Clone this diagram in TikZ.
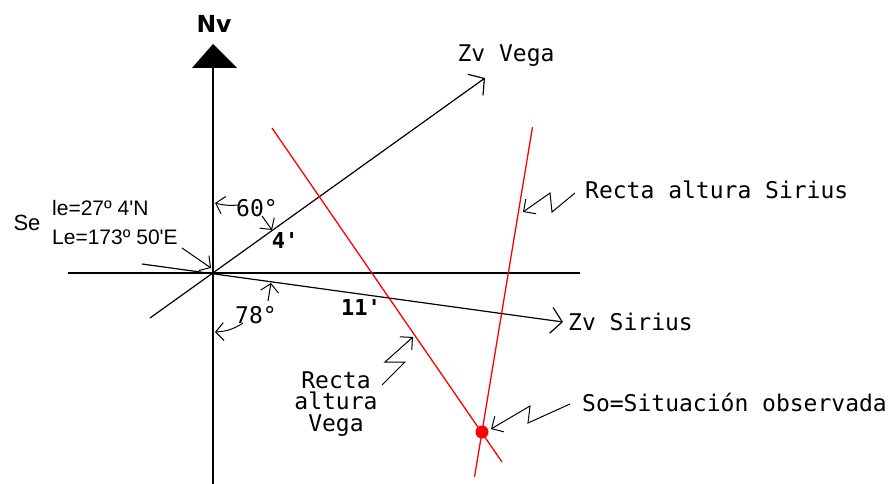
\documentclass[tikz,border=0pt]{standalone}
\usepackage{fontspec}
\usetikzlibrary{arrows.meta}
\newfontfamily\monof{DejaVu Sans Mono}
\newfontfamily\monobf{DejaVu Sans Mono Bold}
\newfontfamily\sansf{Liberation Sans}
\newfontfamily\nvfont{DejaVu Sans Bold}
\begin{document}
\begin{tikzpicture}[x=1pt,y=-1pt,
  axis/.style={line width=2pt},
  ray/.style={line width=1.2pt,-{Straight Barb[length=11pt,width=26pt,line width=1.2pt]}},
  redline/.style={red,line width=1.3pt},
  pointer/.style={line width=1pt,-{Straight Barb[length=9pt,width=18pt,line width=1pt]}},
  angarrow/.style={line width=1pt,-{Straight Barb[length=8pt,width=18pt,line width=1pt]}},
  mlabel/.style={font=\monof\fontsize{23}{21.5}\selectfont,inner sep=0pt},
  blabel/.style={font=\monobf\fontsize{22}{22}\selectfont,inner sep=0pt},
  slabel/.style={font=\sansf\fontsize{21}{21}\selectfont,inner sep=0pt}]
\useasboundingbox (0,0) rectangle (892,484);
% axes
\coordinate (O) at (213,273);
\coordinate (axbot) at (213,484);
\coordinate (axtop) at (213,68);
\coordinate (hleft) at (68,273);
\coordinate (hright) at (580,273);
\draw[axis] (axbot) -- (axtop);
\draw[axis] (hleft) -- (hright);
\fill (192,68) -- (237,68) -- (213,44) -- cycle;
\node[font=\nvfont\fontsize{23.5}{23.5}\selectfont,inner sep=0pt] (nv) at (214,24) {Nv};
% rays
\coordinate (vstart) at (150,318);
\coordinate (vtip) at (485,78);
\coordinate (sstart) at (142,264);
\coordinate (stip) at (563,322);
\draw[ray] (vstart) -- (vtip);
\draw[ray] (sstart) -- (stip);
\node[mlabel] (zvvega) at (506,56) {Zv Vega};
\node[mlabel,anchor=west] (zvsirius) at (568,322) {Zv Sirius};
% red lines
\node[circle,fill=red,minimum size=13pt,inner sep=0pt] (so) at (482,432) {};
\coordinate (rv1) at (272,128);
\coordinate (rv2) at (502,462);
\coordinate (rs1) at (532.5,127);
\coordinate (rs2) at (474.5,477);
\draw[redline] (rv1) -- (rv2);
\draw[redline] (rs1) -- (rs2);
% labels
\node[mlabel,anchor=west] (lsirius) at (585,190) {Recta altura Sirius};
\node[mlabel,anchor=west] (lso) at (582,402) {So=Situación observada};
\node[mlabel,align=center] (lvega) at (336,404) {Recta\\altura\\Vega};
\node[mlabel] (a60) at (257,208) {60°};
\node[mlabel] (a78) at (256,315) {78°};
\node[blabel] (d4) at (285,240) {4\textquotesingle};
\node[blabel] (d11) at (361,307) {11\textquotesingle};
\node[font=\sansf\fontsize{22}{22}\selectfont,inner sep=0pt] (se) at (27,223) {Se};
\node[slabel,anchor=west] (lat) at (52,208) {le=27º 4\textquotesingle N};
\node[slabel,anchor=west] (lon) at (52,237) {Le=173º 50\textquotesingle E};
% angle arrows
\coordinate (g60a) at (238,205);
\coordinate (g60tip) at (215,203);
\coordinate (g60b) at (262,216);
\coordinate (g60tipb) at (272,230);
\draw[angarrow] (g60a) to[bend left=10] (g60tip);
\draw[angarrow] (g60b) -- (g60tipb);
\coordinate (g78a) at (243,323);
\coordinate (g78tip) at (215,332);
\coordinate (g78b) at (268,301);
\coordinate (g78tipb) at (271,283);
\draw[angarrow] (g78a) to[bend left=15] (g78tip);
\draw[angarrow] (g78b) -- (g78tipb);
% Se pointer
\coordinate (sea) at (182,248);
\coordinate (setip) at (211,268);
\draw[angarrow] (sea) -- (setip);
% zigzag pointers
\coordinate (zv0) at (382,385);
\coordinate (zv1) at (405,362);
\coordinate (zv2) at (385,362);
\coordinate (zvtip) at (413,337);
\draw[pointer] (zv0) -- (zv1) -- (zv2) -- (zvtip);
\coordinate (zs0) at (575,193);
\coordinate (zs1) at (552,212);
\coordinate (zs2) at (550,193);
\coordinate (zstip) at (523,212);
\draw[pointer] (zs0) -- (zs1) -- (zs2) -- (zstip);
\coordinate (zo0) at (570,404);
\coordinate (zo1) at (528,423);
\coordinate (zo2) at (530,406);
\coordinate (zotip) at (491,429);
\draw[pointer] (zo0) -- (zo1) -- (zo2) -- (zotip);
\end{tikzpicture}
\end{document}
